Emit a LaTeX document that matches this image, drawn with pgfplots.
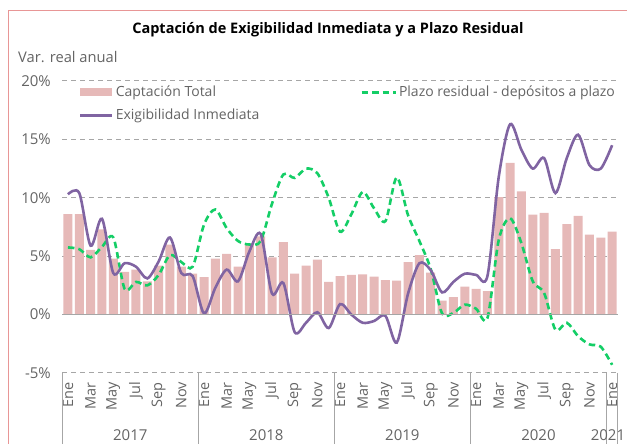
\documentclass[border=0pt]{standalone}
\usepackage{pgfplots}
\usepackage{pgfplotstable}
\pgfplotsset{compat=1.18}
\usepackage{fontspec}
\setmainfont{Open Sans}
\definecolor{barpink}{RGB}{230,185,184}
\definecolor{exig}{RGB}{128,100,162}
\definecolor{plazo}{RGB}{20,206,102}
\definecolor{gridgray}{RGB}{166,166,166}
\definecolor{txtgray}{RGB}{100,100,100}
\definecolor{framepink}{RGB}{232,150,150}

\pgfplotstableread{
idx total exig plazo
0 8.6 10.3 5.75
1 8.6 10.4 5.6
2 5.55 5.9 4.9
3 7.3 8.2 5.8
4 4.8 3.55 6.6
5 3.65 4.4 2.2
6 3.85 4.1 2.8
7 2.85 3.1 2.5
8 4.2 4.55 3.4
9 6.0 6.6 5.1
10 4.1 3.55 4.5
11 3.5 3.3 4.1
12 3.2 0.1 7.7
13 4.8 2.3 9.0
14 5.2 3.85 7.4
15 4.1 2.85 6.3
16 6.1 5.4 6.0
17 6.7 6.9 6.3
18 4.9 1.8 9.5
19 6.2 2.7 12.0
20 3.5 -1.5 11.7
21 4.2 -0.7 12.5
22 4.7 0.2 12.1
23 2.8 -1.15 10.0
24 3.3 0.9 7.1
25 3.4 0.0 8.6
26 3.45 -0.7 10.5
27 3.25 -0.55 9.1
28 2.95 -0.1 8.0
29 2.9 -2.4 11.75
30 4.5 1.8 8.5
31 5.1 4.4 6.3
32 3.6 3.8 3.9
33 1.2 1.9 0.1
34 1.5 2.8 0.15
35 2.4 3.5 0.85
36 2.2 3.4 0.5
37 2.0 3.3 -0.3
38 10.05 11.8 6.4
39 13.0 16.3 8.25
40 10.55 14.1 6.1
41 8.55 12.5 2.85
42 8.7 13.4 1.85
43 5.6 10.4 -1.3
44 7.75 13.4 -0.7
45 8.45 15.4 -1.85
46 6.85 12.8 -2.55
47 6.6 12.5 -2.75
48 7.1 14.5 -4.3
}\datatable

\begin{document}
\begin{tikzpicture}
\useasboundingbox (0pt,0pt) rectangle (627pt,444pt);
\draw[framepink, line width=0.8pt] (8pt,0pt) -- (8pt,434pt) -- (627pt,434pt);
\node[font=\fontsize{14.5}{17}\selectfont\bfseries, anchor=center] at (328pt,414pt) {Captación de Exigibilidad Inmediata y a Plazo Residual};
\node[font=\fontsize{14.7}{17}\selectfont, text=txtgray, anchor=west, inner sep=0pt] at (18pt,387pt) {Var. real anual};
\begin{axis}[
  scale only axis, width=555.5pt, height=292pt,
  at={(62.3pt,71pt)}, anchor=south west,
  xmin=-0.5, xmax=48.5, ymin=-5, ymax=20,
  axis line style={draw=none},
  major tick length=0pt,
  clip=false,
  ytick={-5,5,10,15,20},
  extra y ticks={0},
  extra y tick labels={0\%},
  ymajorgrids,
  grid style={gridgray, dashed, dash pattern=on 5pt off 4pt, line width=1pt},
  extra y tick style={grid=none},
  /pgf/number format/assume math mode=true,
  yticklabel={\pgfmathprintnumber{\tick}\%},
  yticklabel style={font=\fontsize{15}{17}\selectfont, text=txtgray, xshift=-8pt},
  xtick={0,2,...,48},
  xticklabels={Ene,Mar,May,Jul,Sep,Nov,Ene,Mar,May,Jul,Sep,Nov,Ene,Mar,May,Jul,Sep,Nov,Ene,Mar,May,Jul,Sep,Nov,Ene},
  xticklabel style={rotate=90, anchor=east, inner sep=1pt, font=\fontsize{14.5}{16}\selectfont, text=txtgray, xshift=-8pt},
  legend columns=2,
  legend cell align=left,
  legend style={at={(0.03,0.99)}, anchor=north west, draw=none, fill=none,
    font=\fontsize{14}{16}\selectfont, text=txtgray, inner sep=0pt,
    nodes={inner sep=2pt},
    row sep=7pt,
    /tikz/every even column/.append style={column sep=99pt}},
]
\addplot[ybar, bar width=9pt, bar shift=0pt, fill=barpink, draw=none,
  legend image code/.code={\fill[barpink] (0pt,-4pt) rectangle (32pt,4pt);}]
  table[x=idx, y=total] {\datatable};
\addlegendentry{Captación Total}
\addplot[plazo, line width=2.6pt, dash pattern=on 6.5pt off 4pt, smooth, tension=0.5,
  legend image code/.code={\draw[plazo, line width=2.6pt, dash pattern=on 6.5pt off 4pt] (0pt,0pt) -- (34pt,0pt);}]
  table[x=idx, y=plazo] {\datatable};
\addlegendentry{Plazo residual - depósitos a plazo}
\addplot[exig, line width=2.6pt, smooth, tension=0.5,
  legend image code/.code={\draw[exig, line width=2.6pt] (0pt,0pt) -- (32pt,0pt);}]
  table[x=idx, y=exig] {\datatable};
\addlegendentry{Exigibilidad Inmediata}
\draw[gridgray, line width=1.6pt] (axis cs:-0.5,0) -- (axis cs:48.5,0);
\draw[gridgray, line width=0.8pt] (axis cs:-0.5,-5) -- ++(0pt,-71pt);
\draw[gridgray, line width=0.8pt] (axis cs:11.5,-5) -- ++(0pt,-71pt);
\draw[gridgray, line width=0.8pt] (axis cs:23.5,-5) -- ++(0pt,-71pt);
\draw[gridgray, line width=0.8pt] (axis cs:35.5,-5) -- ++(0pt,-71pt);
\draw[gridgray, line width=0.8pt] (axis cs:47.5,-5) -- ++(0pt,-71pt);
\draw[gridgray, line width=0.8pt] (axis cs:48.5,-5) -- ++(0pt,-71pt);
\node[font=\fontsize{15}{17}\selectfont, text=txtgray] at (axis cs:5.5,-5) [yshift=-62pt] {2017};
\node[font=\fontsize{15}{17}\selectfont, text=txtgray] at (axis cs:17.5,-5) [yshift=-62pt] {2018};
\node[font=\fontsize{15}{17}\selectfont, text=txtgray] at (axis cs:29.5,-5) [yshift=-62pt] {2019};
\node[font=\fontsize{15}{17}\selectfont, text=txtgray] at (axis cs:41.5,-5) [yshift=-62pt] {2020};
\node[font=\fontsize{15}{17}\selectfont, text=txtgray, anchor=east, inner sep=1pt] at (axis cs:48.5,-5) [xshift=8.5pt, yshift=-62pt] {2021};
\end{axis}
\end{tikzpicture}
\end{document}
